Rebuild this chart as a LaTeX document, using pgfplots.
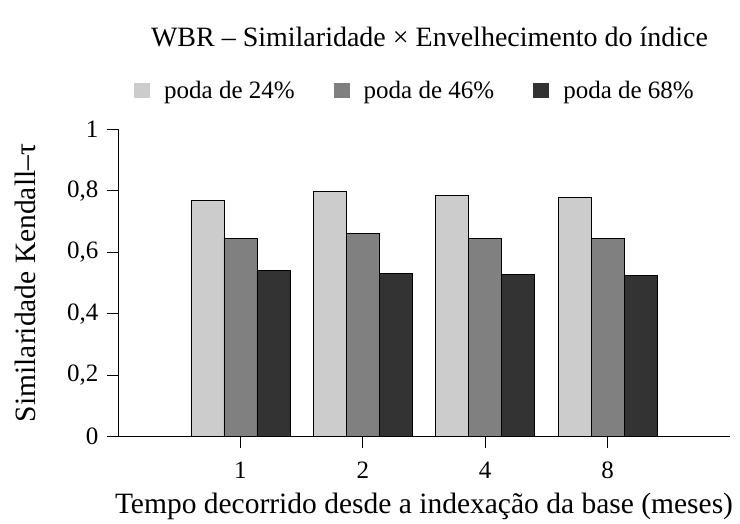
\documentclass[border=0pt]{standalone}
\usepackage{fontspec}
\setmainfont{Liberation Serif}
\usepackage{pgfplots}
\pgfplotsset{compat=1.18}
\definecolor{lgray}{HTML}{CCCCCC}
\definecolor{mgray}{HTML}{808080}
\definecolor{dgray}{HTML}{333333}
\begin{document}
\begin{tikzpicture}
\begin{axis}[
  name=ax,
  scale only axis,
  width=612pt, height=307pt,
  xmin=-1, xmax=4, ymin=0, ymax=1,
  axis lines=left,
  axis line style={-, line width=0.8pt, black},
  ybar=0pt, bar width=33pt,
  xtick={0,1,2,3}, xticklabels={1,2,4,8},
  ytick={0,0.2,0.4,0.6,0.8,1},
  tick align=outside, major tick length=11pt,
  tick style={black, line width=0.8pt},
  /pgf/number format/assume math mode=true,
  ticklabel style={font=\fontsize{25}{29}\selectfont},
  yticklabel style={xshift=-5pt, /pgf/number format/.cd, use comma, fixed, precision=1},
  xticklabel style={yshift=-11pt},
  xlabel={Tempo decorrido desde a indexação da base (meses)},
  ylabel={Similaridade Kendall–τ},
  label style={font=\fontsize{29.5}{34}\selectfont},
  xlabel style={at={(axis description cs:0.5,0)}, anchor=center, yshift=-70pt},
  ylabel style={at={(axis description cs:0,0.5)}, anchor=center, yshift=93pt},
  legend style={at={(0.5,1)}, anchor=center, xshift=-9.5pt, yshift=38.5pt, draw=none,
    font=\fontsize{25}{29}\selectfont, nodes={inner sep=1pt},
    /tikz/every odd column/.append style={column sep=13pt},
    /tikz/every even column/.append style={column sep=38pt}},
  legend columns=3,
  legend image code/.code={\fill[#1, draw=none] (0pt,-7.5pt) rectangle (16pt,7.5pt);},
]
\addplot[fill=lgray, draw=black, line width=0.8pt] coordinates {(0,0.769) (1,0.798) (2,0.785) (3,0.778)};
\addplot[fill=mgray, draw=black, line width=0.8pt] coordinates {(0,0.646) (1,0.661) (2,0.644) (3,0.645)};
\addplot[fill=dgray, draw=black, line width=0.8pt] coordinates {(0,0.542) (1,0.531) (2,0.527) (3,0.526)};
\legend{poda de 24\%, poda de 46\%, poda de 68\%}
\end{axis}
\node[font=\fontsize{28}{33}\selectfont] at ([yshift=93pt, xshift=5.5pt]ax.north) {WBR – Similaridade × Envelhecimento do índice};
\path[use as bounding box] ([shift={(-118pt,-84.5pt)}]ax.south west) rectangle ([shift={(10pt,129.5pt)}]ax.north east);
\end{tikzpicture}
\end{document}
